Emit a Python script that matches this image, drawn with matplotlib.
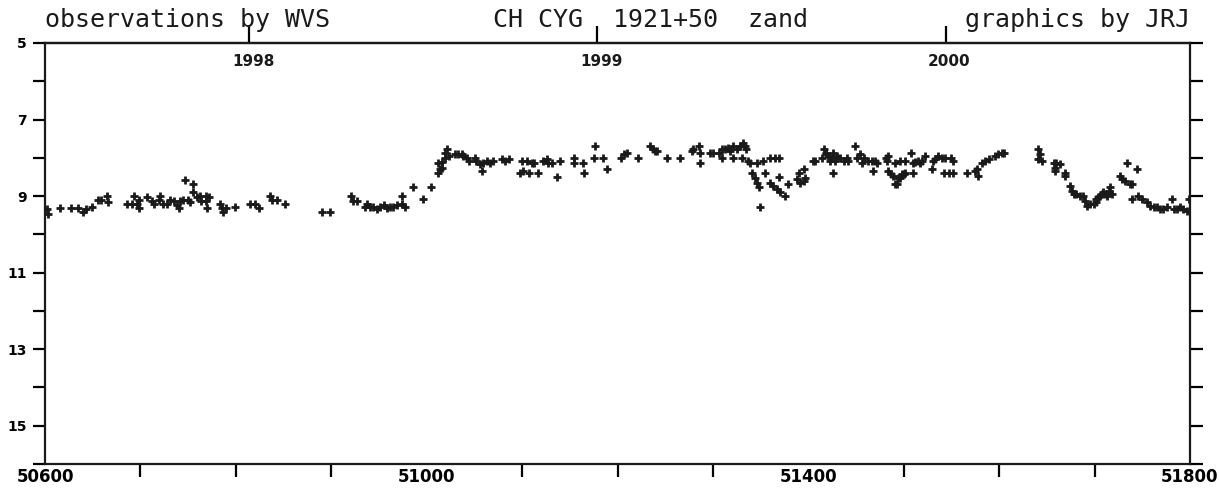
import datetime
import numpy as np
import matplotlib
matplotlib.use("Agg")
import matplotlib.pyplot as plt
from matplotlib.ticker import FixedLocator, NullFormatter

# --- data: visual estimates (MJD, visual magnitude) ---
mjd = [
    50602, 50603.5, 50616, 50627, 50635, 50640, 50643, 50649, 50656, 50659,
    50665, 50666, 50686, 50691, 50693, 50696, 50698, 50699, 50707, 50712,
    50714, 50719, 50721, 50724, 50728, 50731, 50735, 50738, 50740, 50742,
    50745, 50747, 50750, 50752, 50755, 50755, 50759, 50762, 50764, 50769,
    50769, 50770, 50772, 50783, 50785, 50787, 50790, 50799, 50815, 50820,
    50824, 50836, 50838, 50843, 50852, 50890, 50899, 50921, 50923, 50927,
    50935, 50937, 50941, 50944, 50948, 50951, 50955, 50958, 50962, 50965,
    50969, 50974, 50974, 50977, 50986, 50996, 51005, 51012, 51012, 51014,
    51016, 51016, 51019, 51019, 51021, 51023, 51030, 51033, 51037, 51038,
    51042, 51044, 51051, 51052, 51056, 51058, 51059, 51063, 51066, 51070,
    51079, 51082, 51086, 51098, 51100, 51101, 51105, 51107, 51110, 51113,
    51117, 51122, 51126, 51127, 51131, 51137, 51140, 51154, 51154, 51164,
    51165, 51175, 51176, 51185, 51189, 51204, 51207, 51210, 51222, 51234,
    51237, 51239, 51241, 51252, 51266, 51278, 51279, 51285, 51286, 51286,
    51297, 51300, 51306, 51309, 51309, 51313, 51316, 51318, 51321, 51321,
    51325, 51328, 51330, 51332, 51334, 51335, 51337, 51339, 51341, 51344,
    51346, 51346, 51348, 51349, 51353, 51355, 51360, 51360, 51363, 51365,
    51367, 51369, 51369, 51370, 51376, 51379, 51388, 51390, 51391, 51395,
    51395, 51396, 51405, 51407, 51414, 51416, 51418, 51419, 51421, 51423,
    51425, 51426, 51426, 51428, 51430, 51433, 51437, 51440, 51442, 51449,
    51451, 51454, 51456, 51458, 51463, 51467, 51468, 51470, 51472, 51481,
    51482, 51484, 51484, 51487, 51489, 51491, 51491, 51493, 51494, 51496,
    51496, 51498, 51500, 51501, 51501, 51508, 51510, 51510, 51512, 51515,
    51517, 51519, 51522, 51530, 51531, 51533, 51536, 51540, 51542, 51543,
    51547, 51550, 51552, 51552, 51566, 51575, 51577, 51578, 51582, 51585,
    51589, 51596, 51599, 51603, 51605, 51641, 51641, 51643, 51645, 51657,
    51659, 51659, 51660, 51664, 51669, 51669, 51674, 51676, 51678, 51681,
    51685, 51688, 51690, 51692, 51695, 51699, 51701, 51702, 51704, 51706,
    51708, 51709, 51711, 51713, 51715, 51716, 51718, 51727, 51729, 51732,
    51734, 51737, 51739, 51739, 51744, 51746, 51750, 51755, 51758, 51762,
    51765, 51769, 51772, 51776, 51781, 51783, 51786, 51790, 51793, 51797,
    51799,
]
mag = [
    9.34, 9.47, 9.32, 9.32, 9.32, 9.41, 9.35, 9.29, 9.10, 9.10,
    9.01, 9.16, 9.21, 9.21, 8.99, 9.21, 9.10, 9.32, 9.02, 9.12,
    9.21, 9.10, 8.99, 9.21, 9.21, 9.10, 9.12, 9.23, 9.32, 9.12,
    9.10, 8.58, 9.10, 9.16, 8.69, 8.90, 9.03, 8.99, 9.12, 9.01,
    9.12, 9.32, 9.02, 9.21, 9.32, 9.42, 9.32, 9.29, 9.21, 9.21,
    9.32, 8.99, 9.10, 9.10, 9.21, 9.41, 9.41, 8.99, 9.12, 9.12,
    9.29, 9.21, 9.29, 9.29, 9.34, 9.29, 9.23, 9.32, 9.29, 9.29,
    9.23, 8.99, 9.21, 9.29, 8.77, 9.08, 8.77, 8.39, 8.13, 8.30,
    8.26, 8.11, 7.87, 8.00, 7.78, 7.95, 7.89, 7.89, 7.89, 7.95,
    8.00, 8.08, 8.00, 8.08, 8.17, 8.34, 8.13, 8.08, 8.13, 8.08,
    8.02, 8.08, 8.02, 8.39, 8.08, 8.34, 8.08, 8.39, 8.13, 8.13,
    8.39, 8.08, 8.04, 8.13, 8.13, 8.49, 8.08, 8.00, 8.13, 8.13,
    8.39, 8.00, 7.69, 8.00, 8.30, 8.00, 7.91, 7.87, 8.00, 7.69,
    7.78, 7.82, 7.82, 8.00, 8.00, 7.82, 7.78, 7.69, 7.87, 8.13,
    7.87, 7.87, 7.87, 8.00, 7.78, 7.78, 7.74, 7.82, 7.69, 8.00,
    7.78, 7.69, 8.00, 7.61, 7.69, 7.78, 8.08, 8.13, 8.39, 8.52,
    8.65, 8.13, 8.77, 9.29, 8.08, 8.39, 8.65, 8.00, 8.73, 8.00,
    8.82, 8.49, 8.00, 8.90, 8.99, 8.69, 8.56, 8.39, 8.65, 8.30,
    8.60, 8.52, 8.08, 8.08, 8.00, 7.78, 7.87, 7.91, 7.95, 8.08,
    8.00, 7.87, 8.39, 8.08, 7.95, 8.00, 8.08, 8.00, 8.08, 7.69,
    8.00, 7.91, 8.13, 8.00, 8.08, 8.08, 8.34, 8.08, 8.13, 8.00,
    8.08, 7.95, 8.34, 8.43, 8.47, 8.69, 8.13, 8.69, 8.52, 8.52,
    8.08, 8.43, 8.43, 8.39, 8.08, 7.87, 8.13, 8.39, 8.11, 8.08,
    8.13, 8.08, 7.95, 8.30, 8.08, 8.04, 7.95, 8.00, 8.39, 8.00,
    8.39, 8.00, 8.08, 8.39, 8.39, 8.34, 8.30, 8.47, 8.13, 8.08,
    8.04, 7.95, 7.91, 7.87, 7.87, 7.78, 8.04, 7.91, 8.08, 8.13,
    8.26, 8.34, 8.13, 8.17, 8.39, 8.47, 8.73, 8.86, 8.95, 8.95,
    8.99, 8.99, 9.12, 9.25, 9.21, 9.21, 9.08, 9.16, 9.03, 8.99,
    8.95, 8.90, 8.95, 8.99, 8.86, 8.77, 8.95, 8.47, 8.56, 8.60,
    8.13, 8.69, 8.69, 9.08, 8.30, 8.99, 9.08, 9.16, 9.25, 9.29,
    9.29, 9.34, 9.34, 9.29, 9.08, 9.34, 9.34, 9.29, 9.34, 9.38,
    9.08,
]

years = [1998, 1999, 2000]
mjd_labels = [50600, 51000, 51400, 51800]

# --- figure ---
fig = plt.figure(figsize=(12.19, 4.88), dpi=100)
ax = fig.add_axes([45 / 1219, 24 / 488, 1145 / 1219, 421 / 488])

ax.plot(mjd, mag, ls="none", marker="+", ms=5.5, mew=2.0, color="#1a1a1a")

ax.set_xlim(50600, 51800)
ax.set_ylim(16, 5)

for s in ax.spines.values():
    s.set_linewidth(1.6)
    s.set_color("#1a1a1a")

# bottom axis: labels every 400 days, plain ticks in between
ax.xaxis.set_major_locator(FixedLocator(mjd_labels))
ax.set_xticklabels([str(v) for v in mjd_labels])
ax.xaxis.set_minor_locator(FixedLocator([v for v in range(50700, 51800, 100) if v not in mjd_labels]))
ax.xaxis.set_minor_formatter(NullFormatter())
ax.tick_params(axis="x", which="major", length=0, pad=3, labelsize=12)
ax.tick_params(axis="x", which="minor", direction="out", length=9, width=1.6)
for lab in ax.get_xticklabels():
    lab.set_fontweight("bold")

# left / right axis: every magnitude, labels every 2
ax.yaxis.set_major_locator(FixedLocator([5, 7, 9, 11, 13, 15]))
ax.yaxis.set_minor_locator(FixedLocator([6, 8, 10, 12, 14, 16]))
ax.tick_params(axis="y", which="both", direction="out", length=9, width=1.6,
               left=True, right=True, labelsize=10, pad=4)
for lab in ax.get_yticklabels():
    lab.set_fontweight("bold")

# top axis: year marks
year_mjd = [(datetime.date(y, 1, 1) - datetime.date(1858, 11, 17)).days for y in years]
top = ax.secondary_xaxis("top")
top.set_xticks(year_mjd)
top.set_xticklabels([])
top.tick_params(direction="out", length=12, width=1.6)
top.spines["top"].set_linewidth(1.6)
for ym, y in zip(year_mjd, years):
    ax.text(ym + 4, 0.955, str(y), transform=ax.get_xaxis_transform(),
            ha="center", va="center", fontsize=11, fontweight="bold", color="#1a1a1a")

# header
hdr_y = 1 - 27 / 488
fig.text(45 / 1219, hdr_y, "observations by WVS", ha="left", va="baseline",
         fontsize=18, color="#1a1a1a", family="DejaVu Sans Mono")
fig.text(650 / 1219, hdr_y, "CH CYG  1921+50  zand", ha="center", va="baseline",
         fontsize=18, color="#1a1a1a", family="DejaVu Sans Mono")
fig.text(1190 / 1219, hdr_y, "graphics by JRJ", ha="right", va="baseline",
         fontsize=18, color="#1a1a1a", family="DejaVu Sans Mono")

fig.savefig("out.png", dpi=100)
